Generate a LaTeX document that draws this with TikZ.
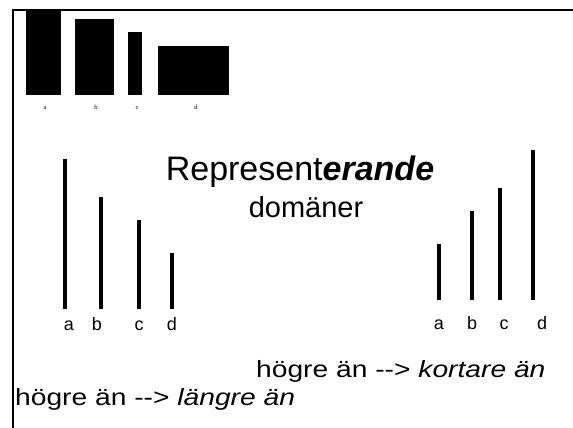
\documentclass[tikz,border=0pt]{standalone}
\usepackage{fontspec}
\setmainfont{Liberation Sans}
\newfontfamily\tinyserif{Liberation Serif}
\newfontfamily\widesans[FakeStretch=1.2]{Liberation Sans}
\usetikzlibrary{positioning}
\tikzset{
    frameline/.style={draw=black, line width=2pt},
    block/.style={fill=black},
    stick/.style={draw=black, line width=4pt},
    tinylabel/.style={font=\tinyserif\fontsize{6.5}{7}\selectfont, inner sep=0pt, anchor=base},
    sticklabel/.style={font=\fontsize{18}{20}\selectfont, inner sep=0pt, anchor=base},
    titletext/.style={font=\fontsize{34}{38}\selectfont, inner sep=0pt, anchor=base},
    subtitletext/.style={font=\fontsize{29}{32}\selectfont, inner sep=0pt, anchor=base},
    captiontext/.style={font=\widesans\fontsize{23.5}{26}\selectfont, inner sep=0pt, anchor=base west}
}

\begin{document}
\begin{tikzpicture}[x=1pt,y=-1pt]
	\useasboundingbox (0,0) rectangle (573,428);
	% frame
	\draw[frameline] (12,10)--(573,10);
	\draw[frameline] (13,9)--(13,428);
	% blocks at the top
	\fill[block] (26,9) rectangle (61,95);
	\fill[block] (75,19) rectangle (114,95);
	\fill[block] (128,32) rectangle (142,95);
	\fill[block] (158,46) rectangle (229,95);
	\node[tinylabel] (ta) at (45,110) {a};
	\node[tinylabel] (tb) at (96,110) {b};
	\node[tinylabel] (tc) at (137,110) {c};
	\node[tinylabel] (td) at (196,110) {d};
	% left sticks
	\draw[stick] (65,309)--(65,159);
	\draw[stick] (101,309)--(101,197);
	\draw[stick] (139,309)--(139,220);
	\draw[stick] (172,309)--(172,253);
	\node[sticklabel] (la) at (69,330) {a};
	\node[sticklabel] (lb) at (97,330) {b};
	\node[sticklabel] (lc) at (139,330) {c};
	\node[sticklabel] (ld) at (172,330) {d};
	% right sticks
	\draw[stick] (439,300)--(439,244);
	\draw[stick] (472,300)--(472,211);
	\draw[stick] (500,300)--(500,188);
	\draw[stick] (533,300)--(533,150);
	\node[sticklabel] (ra) at (439,329) {a};
	\node[sticklabel] (rb) at (472,329) {b};
	\node[sticklabel] (rc) at (504,329) {c};
	\node[sticklabel] (rd) at (542,329) {d};
	% title
	\node[titletext] (title) at (300,180) {Represent{\bfseries\itshape erande}};
	\node[subtitletext] (domain) at (306,217) {domäner};
	% captions
	\node[captiontext] (shorter) at (256,377) {högre än --> \textit{kortare än}};
	\node[captiontext] (longer) at (15,405) {högre än --> \textit{längre än}};
\end{tikzpicture}
\end{document}
